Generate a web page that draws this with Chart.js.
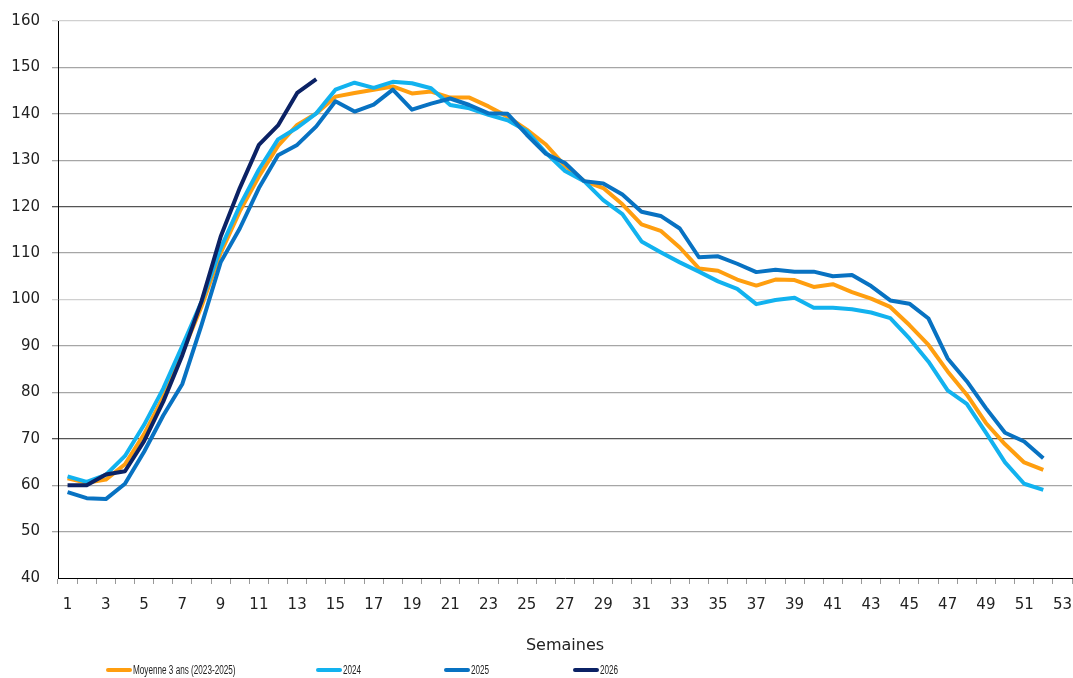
<!DOCTYPE html>
<html>
<head>
<meta charset="utf-8">
<script src="https://cdn.jsdelivr.net/npm/chart.js"></script>
<style>
  html, body { margin: 0; padding: 0; background: #fff; }
  #wrap { position: relative; width: 1073px; height: 678px; }
  #legend {
    position: absolute; left: 106px; top: 663px; display: flex;
    font-family: 'Liberation Sans', sans-serif; font-size: 12px; color: #222;
  }
  #legend .item { display: flex; align-items: center; white-space: nowrap; }
  #legend .swatch { width: 26px; height: 4px; border-radius: 2px; margin-right: 1px; flex: none; }
  #legend .txt { display: inline-block; transform: scaleX(0.68); transform-origin: left center; }
</style>
</head>
<body>
<div id="wrap">
  <canvas id="chartCanvas" width="1073" height="678"></canvas>
  <div id="legend"></div>
</div>
<script>
// weeks 1..53
const weeks = [];
for (let w = 1; w <= 53; w++) weeks.push(String(w));

const yTicks = [40, 50, 60, 70, 80, 90, 100, 110, 120, 130, 140, 150, 160];

const moyenne = [61.5, 60.5, 61.2, 64.5, 71, 79, 88.5, 98.5, 110, 119, 126.5, 133.1, 137.6, 140.1,
  143.7, 144.5, 145.2, 145.9, 144.4, 144.8, 143.5, 143.5, 141.6, 139.4, 136.6, 133.4, 128.8, 125.5,
  124, 120.5, 116.2, 114.8, 111.2, 106.7, 106.2, 104.3, 103, 104.3, 104.2, 102.7, 103.3, 101.6,
  100.2, 98.4, 94.5, 90.2, 84.5, 79.5, 73.4, 68.8, 64.9, 63.3];

const s2024 = [61.9, 60.7, 62.2, 66.3, 73, 80.8, 90, 99.5, 111, 120.2, 128, 134.5, 137, 140.1,
  145.2, 146.7, 145.6, 146.9, 146.6, 145.5, 141.9, 141.2, 139.8, 138.6, 136.3, 131.6, 127.7, 125.5,
  121.4, 118.4, 112.5, 110.2, 108, 106, 103.9, 102.3, 99, 99.9, 100.4, 98.2, 98.2, 97.9,
  97.2, 96, 91.6, 86.6, 80.4, 77.5, 71.3, 64.9, 60.3, 59];

const s2025 = [58.5, 57.2, 57, 60.3, 67.2, 75, 81.8, 94.5, 108, 115.3, 124, 131.1, 133.3, 137.3,
  142.7, 140.5, 142, 145.2, 140.9, 142.2, 143.3, 141.9, 140.1, 140, 135.5, 131.4, 129.4, 125.5,
  125, 122.6, 118.9, 118, 115.3, 109.1, 109.3, 107.7, 105.9, 106.4, 106, 106, 105, 105.3,
  102.9, 99.8, 99.1, 95.9, 87.3, 82.4, 76.6, 71.3, 69.4, 65.8];

const s2026 = [60, 60, 62.3, 63, 69.5, 78, 88, 99.6, 113.5, 124, 133.3, 137.5, 144.5, 147.5];

const seriesNames = ['Moyenne 3 ans (2023-2025)', '2024', '2025', '2026'];
const seriesColors = ['#FF9E0F', '#12B2EF', '#0872C2', '#0B2265'];

function gridColor(ctx) {
  const v = ctx.tick && ctx.tick.value;
  if (v === 120 || v === 70) return '#555555';
  if (v === 160 || v === 100) return '#d0d0d0';
  if (v === 40) return 'rgba(0,0,0,0)';
  return '#a6a6a6';
}

const tickFont = { family: "'DejaVu Sans', sans-serif", size: 15 };

const ctx = document.getElementById('chartCanvas').getContext('2d');
const chart = new Chart(ctx, {
  type: 'line',
  data: {
    labels: weeks,
    datasets: [moyenne, s2024, s2025, s2026].map(function (d, i) {
      return {
        label: seriesNames[i],
        data: d,
        borderColor: seriesColors[i],
        backgroundColor: seriesColors[i],
        borderWidth: 4,
        pointRadius: 0,
        tension: 0,
        borderJoinStyle: 'round',
        order: 4 - i
      };
    })
  },
  options: {
    responsive: false,
    animation: false,
    layout: { padding: { top: 17, right: 1, left: 0, bottom: 0 } },
    plugins: { legend: { display: false }, tooltip: { enabled: false } },
    scales: {
      x: {
        offset: true,
        grid: { display: true, drawOnChartArea: false, offset: true, tickLength: 6, color: '#999' },
        border: { color: '#000', width: 1 },
        ticks: {
          autoSkip: false, maxRotation: 0, padding: 12, color: '#222', font: tickFont,
          callback: function (val, i) { return i % 2 === 0 ? weeks[i] : ''; }
        },
        title: {
          display: true, text: 'Semaines', color: '#222',
          font: { family: "'DejaVu Sans', sans-serif", size: 16 }, padding: { top: 0, bottom: 23 }
        },
        afterFit: function (s) { s.height = 100; s.paddingLeft = 0; s.paddingRight = 0; }
      },
      y: {
        min: 40, max: 160,
        afterBuildTicks: function (s) { s.ticks = yTicks.map(function (v) { return { value: v }; }); },
        grid: { color: gridColor, tickLength: 6, lineWidth: 1.3 },
        border: { color: '#000', width: 1 },
        ticks: { padding: 12, color: '#222', font: tickFont },
        afterFit: function (s) { s.width = 58; }
      }
    }
  }
});

// html legend built from the datasets, slot widths match the reference spacing
const legendSlots = [210, 128, 129, 80];
const legendEl = document.getElementById('legend');
chart.data.datasets.forEach(function (ds, i) {
  const item = document.createElement('div');
  item.className = 'item';
  item.style.width = legendSlots[i] + 'px';
  const sw = document.createElement('span');
  sw.className = 'swatch';
  sw.style.background = ds.borderColor;
  const tx = document.createElement('span');
  tx.className = 'txt';
  tx.textContent = ds.label;
  item.appendChild(sw);
  item.appendChild(tx);
  legendEl.appendChild(item);
});
</script>
</body>
</html>
